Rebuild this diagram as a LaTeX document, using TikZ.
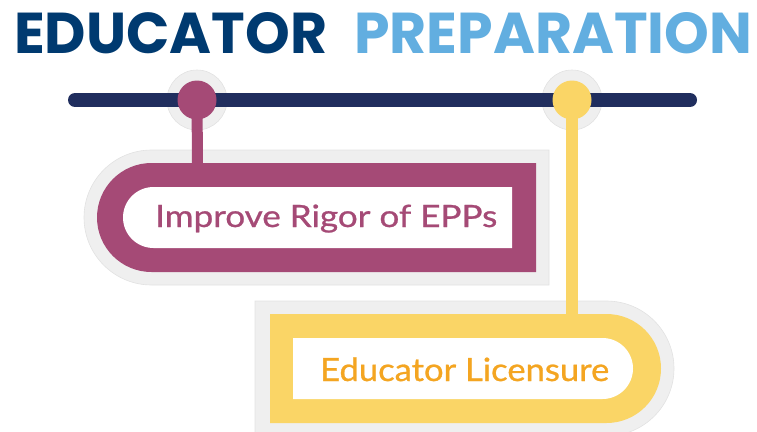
\documentclass[tikz,border=0pt]{standalone}
\usepackage{fontspec}
\setmainfont{Lato}
\newfontfamily\labelfont[FakeBold=0.8]{Lato}
\newfontfamily\titlefont{Poppins}
\usepackage{graphicx}
\definecolor{navytitle}{HTML}{003A70}
\definecolor{lightblue}{HTML}{62AEE0}
\definecolor{barnavy}{HTML}{202E5E}
\definecolor{plum}{HTML}{A54A76}
\definecolor{sunyellow}{HTML}{FAD566}
\definecolor{orangetext}{HTML}{F4A521}
\definecolor{halogray}{HTML}{EFEFEF}
\definecolor{haloedge}{HTML}{E2E2E2}
\tikzset{
  halo/.style={fill=halogray, draw=haloedge, line width=0.6pt},
  knob/.style={circle, minimum size=39pt, inner sep=0pt},
  labeltext/.style={inner sep=0pt, anchor=base west},
}
\begin{document}
\begin{tikzpicture}[x=1pt,y=-1pt]
\useasboundingbox (0,0) rectangle (757,431);
% title
\node[labeltext, text=navytitle] (t1) at (14,53)
  {\resizebox{313pt}{41pt}{\titlefont\bfseries EDUCATOR}};
\node[labeltext, text=lightblue] (t2) at (354,53)
  {\resizebox{398pt}{41pt}{\titlefont\bfseries PREPARATION}};
% halos
\fill[halo] (197,100) circle (30);
\fill[halo] (572,100) circle (30);
\draw[halo] (549,150) -- (151.5,150) arc[start angle=-90, end angle=-270, radius=67.5] -- (549,285) -- cycle;
\draw[halo] (255,301) -- (606.5,301) arc[start angle=-90, end angle=90, radius=67.5] -- (255,440) -- cycle;
% bar
\coordinate (barL) at (75,100);
\coordinate (barR) at (690,100);
\draw[barnavy, line width=14pt, line cap=round] (barL) -- (barR);
% knobs
\node[knob, fill=plum] (k1) at (197,100) {};
\node[knob, fill=sunyellow] (k2) at (572,100) {};
\coordinate (top1) at (197.5,165);
\coordinate (top2) at (572,316);
\draw[plum, line width=11pt] (k1.center) -- (top1);
\draw[sunyellow, line width=12pt] (k2.center) -- (top2);
% plum box
\fill[plum] (536,163) -- (151.5,163) arc[start angle=-90, end angle=-270, radius=54.5] -- (536,272) -- cycle;
\fill[white] (512,187) -- (153.5,187) arc[start angle=-90, end angle=-270, radius=30.5] -- (512,248) -- cycle;
% yellow box
\fill[sunyellow] (270,314) -- (606.5,314) arc[start angle=-90, end angle=90, radius=54.5] -- (270,423) -- cycle;
\fill[white] (293,338) -- (602.5,338) arc[start angle=-90, end angle=90, radius=30.5] -- (293,399) -- cycle;
% labels
\node[labeltext, text=plum] (l1) at (155,227)
  {\resizebox{342pt}{\height}{\labelfont\fontsize{30.7}{32}\selectfont Improve Rigor of EPPs}};
\node[labeltext, text=orangetext] (l2) at (320,381)
  {\resizebox{289pt}{\height}{\labelfont\fontsize{32}{34}\selectfont Educator Licensure}};
\end{tikzpicture}
\end{document}
